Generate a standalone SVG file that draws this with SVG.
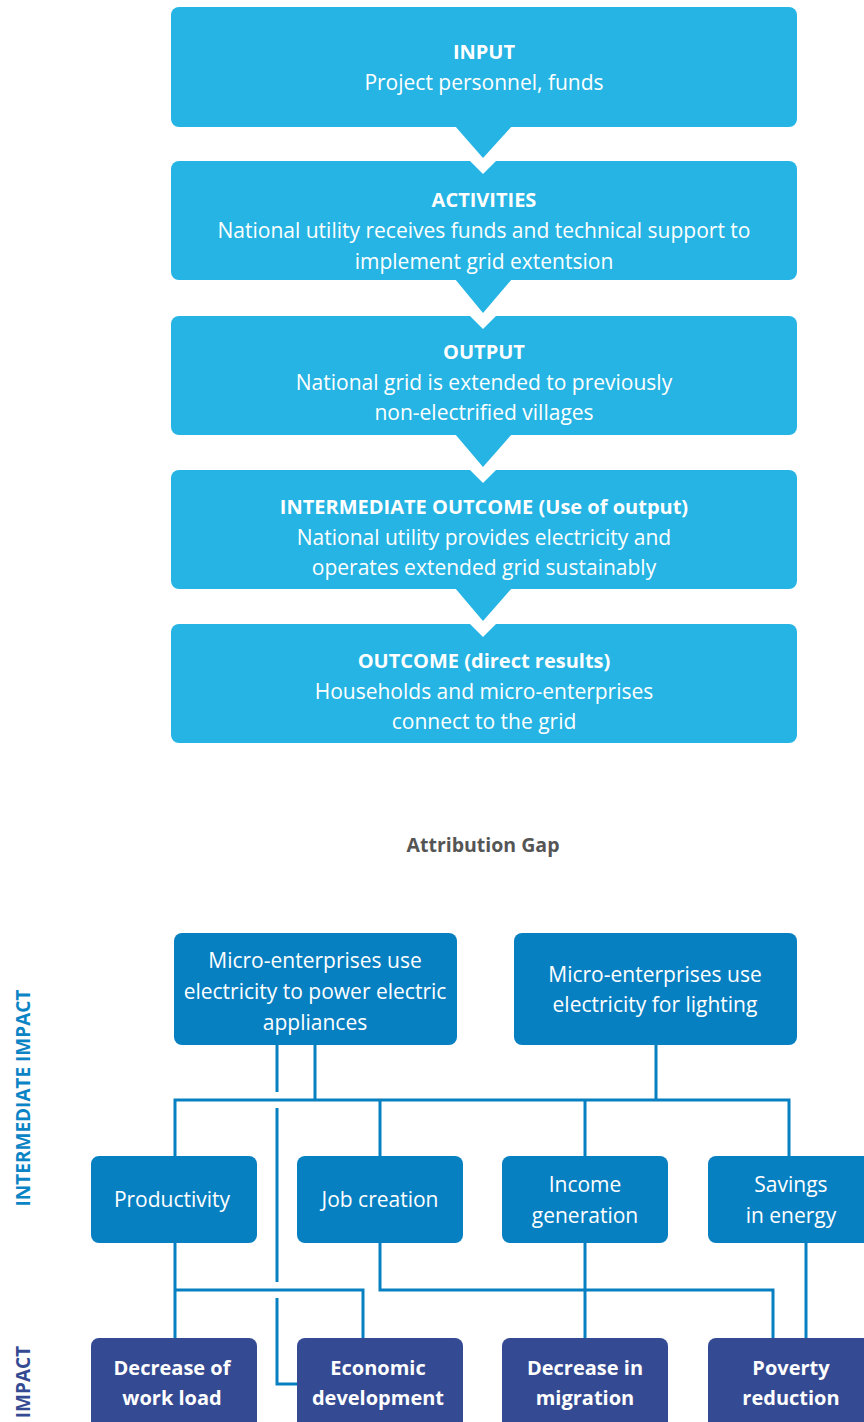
<svg xmlns="http://www.w3.org/2000/svg" width="864" height="1422" viewBox="0 0 864 1422">
<style>
.top{fill:#25b4e3}
.mid{fill:#0780c2}
.imp{fill:#344a92}
.arrow{fill:#25b4e3}
.notch{fill:#ffffff}
text{font-family:"Open Sans","Noto Sans","Liberation Sans",sans-serif;fill:#ffffff;text-anchor:middle}
.t{font-size:21px}
.b{font-size:20px;font-weight:bold}
.con{fill:none;stroke:#0780c2;stroke-width:3}
.gap{font-size:19.5px;font-weight:bold;fill:#555555}
.side{font-size:19px;font-weight:bold}
</style>
<rect width="864" height="1422" fill="#ffffff"/>
<g id="input"><rect class="top" x="171" y="7" width="626" height="120" rx="8"/>
<text class="b" x="484" y="59">INPUT</text>
<text class="t" x="484" y="90">Project personnel, funds</text></g>
<g id="activities"><rect class="top" x="171" y="161" width="626" height="119" rx="8"/>
<text class="b" x="484" y="207">ACTIVITIES</text>
<text class="t" x="484" y="238">National utility receives funds and technical support to</text>
<text class="t" x="484" y="269">implement grid extentsion</text></g>
<g id="output"><rect class="top" x="171" y="316" width="626" height="119" rx="8"/>
<text class="b" x="484" y="359">OUTPUT</text>
<text class="t" x="484" y="390">National grid is extended to previously</text>
<text class="t" x="484" y="420">non-electrified villages</text></g>
<g id="intermediate-outcome"><rect class="top" x="171" y="470" width="626" height="119" rx="8"/>
<text class="b" x="484" y="514">INTERMEDIATE OUTCOME (Use of output)</text>
<text class="t" x="484" y="545">National utility provides electricity and</text>
<text class="t" x="484" y="575">operates extended grid sustainably</text></g>
<g id="outcome"><rect class="top" x="171" y="624" width="626" height="119" rx="8"/>
<text class="b" x="484" y="668">OUTCOME (direct results)</text>
<text class="t" x="484" y="699">Households and micro-enterprises</text>
<text class="t" x="484" y="729">connect to the grid</text></g>
<g id="arrows">
<polygon class="arrow" points="455,126 512,126 483,158"/>
<polygon class="notch" points="469,160 497,160 483,174"/>
<polygon class="arrow" points="455,279 512,279 483,313"/>
<polygon class="notch" points="469,315 497,315 483,329"/>
<polygon class="arrow" points="455,434 512,434 483,467"/>
<polygon class="notch" points="469,469 497,469 483,483"/>
<polygon class="arrow" points="455,588 512,588 483,621"/>
<polygon class="notch" points="469,623 497,623 483,637"/>
</g>
<text class="gap" x="483" y="852">Attribution Gap</text>
<g id="connectors">
<path class="con" d="M315,1045V1100M656,1045V1100M175,1156V1100H789V1156M380,1100V1156M585,1100V1156"/>
<path class="con" d="M277,1045V1092M277,1108V1282M277,1298V1384H297"/>
<path class="con" d="M175,1243V1338M175,1290H363V1338M380,1243V1290H773V1338M585,1243V1338M806,1243V1338"/>
</g>
<g id="micro-appliances"><rect class="mid" x="174" y="933" width="283" height="112" rx="8"/>
<text class="t" x="315" y="968">Micro-enterprises use</text>
<text class="t" x="315" y="999">electricity to power electric</text>
<text class="t" x="315" y="1030">appliances</text></g>
<g id="micro-lighting"><rect class="mid" x="514" y="933" width="283" height="112" rx="8"/>
<text class="t" x="655" y="982">Micro-enterprises use</text>
<text class="t" x="655" y="1012">electricity for lighting</text></g>
<g id="productivity"><rect class="mid" x="91" y="1156" width="166" height="87" rx="8"/>
<text class="t" x="172" y="1207">Productivity</text></g>
<g id="job-creation"><rect class="mid" x="297" y="1156" width="166" height="87" rx="8"/>
<text class="t" x="380" y="1207">Job creation</text></g>
<g id="income"><rect class="mid" x="502" y="1156" width="166" height="87" rx="8"/>
<text class="t" x="585" y="1192">Income</text>
<text class="t" x="585" y="1223">generation</text></g>
<g id="savings"><rect class="mid" x="708" y="1156" width="166" height="87" rx="8"/>
<text class="t" x="791" y="1192">Savings</text>
<text class="t" x="791" y="1223">in energy</text></g>
<g id="workload"><rect class="imp" x="91" y="1338" width="166" height="94" rx="8"/>
<text class="b" x="172" y="1375">Decrease of</text>
<text class="b" x="172" y="1405">work load</text></g>
<g id="economic"><rect class="imp" x="297" y="1338" width="166" height="94" rx="8"/>
<text class="b" x="378" y="1375">Economic</text>
<text class="b" x="378" y="1405">development</text></g>
<g id="migration"><rect class="imp" x="502" y="1338" width="166" height="94" rx="8"/>
<text class="b" x="585" y="1375">Decrease in</text>
<text class="b" x="585" y="1405">migration</text></g>
<g id="poverty"><rect class="imp" x="708" y="1338" width="166" height="94" rx="8"/>
<text class="b" x="791" y="1375">Poverty</text>
<text class="b" x="791" y="1405">reduction</text></g>
<text class="side" transform="translate(30,1098) rotate(-90)" style="fill:#0b84c6">INTERMEDIATE IMPACT</text>
<text class="side" transform="translate(30,1382) rotate(-90)" style="fill:#344a92">IMPACT</text>
</svg>
